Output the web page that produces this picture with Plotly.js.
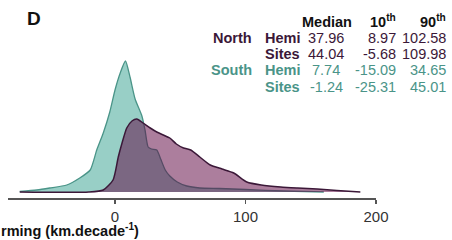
<!DOCTYPE html>
<html><head><meta charset="utf-8">
<script src="https://cdn.plot.ly/plotly-3.0.1.min.js"></script>
<style>html,body{margin:0;padding:0;background:#fff}#c{width:452px;height:240px}</style>
</head><body><div id="c"></div>
<script>
// Density estimates (arbitrary units)
const southX = [-73, -60, -50, -37, -27, -19, -14, -9, -4, 0, 4, 8, 11.5, 15.4, 20.6, 23, 25.4, 28, 32, 35, 38.5, 42, 47.7, 55, 65, 80, 100, 130, 160];
const southY = [0.5, 2, 4, 7, 14, 22, 42, 59, 80, 102, 119, 131, 115, 93, 76, 62, 45, 43, 42, 33, 22, 16, 10, 6, 4, 3.5, 2.5, 1, 0];
const northX = [-73, -20, -9, -1.5, 2.5, 5.4, 9, 13, 16.7, 21.5, 27, 32, 37, 42, 47, 52.5, 58, 65, 73, 82, 91, 101, 112, 127, 140, 155, 170, 188];
const northY = [0, 0, 2, 12, 35, 49, 64, 71, 73, 69, 64, 60, 57, 54, 48, 44, 42, 35, 27, 23, 19, 10, 7, 5, 4, 3, 1.5, 0];

const tickVals = [0, 100, 200];
const tickText = ['0', '100', '200'];

const groups = ['North', '', 'South', ''];
const kinds = ['Hemi', 'Sites', 'Hemi', 'Sites'];
const medians = ['37.96', '44.04', '7.74', '-1.24'];
const p10 = ['8.97', '-5.68', '-15.09', '-25.31'];
const p90 = ['102.58', '109.98', '34.65', '45.01'];
const headers = ['Median', '10<sup>th</sup>', '90<sup>th</sup>'];

const purple = '#3b1838', teal = '#4a9488';
const rowColors = [purple, purple, teal, teal];

// pixel helpers for annotation placement
const L = 8, W = 368, T = 40, H = 158;
const px = X => (X - L) / W;
const py = Y => (T + H - Y) / H;

const font = 'Liberation Sans, Arial, Helvetica, sans-serif';
const ann = [];
function add(text, X, Y, anchor, color, bold, size) {
  ann.push({xref: 'paper', yref: 'paper', x: px(X), y: py(Y), xanchor: anchor, yanchor: 'middle',
    text: bold ? '<b>' + text + '</b>' : text, showarrow: false,
    font: {family: font, size: size || 14.5, color: color}});
}
add('D', 25, 19, 'left', '#111', true, 19);
add(headers[0], 354, 22, 'right', '#111', true);
add(headers[1], 398, 21, 'right', '#111', true);
add(headers[2], 448, 21, 'right', '#111', true);
const rowY = [38, 54, 70, 87];
for (let i = 0; i < 4; i++) {
  if (groups[i]) add(groups[i], 254, rowY[i], 'right', rowColors[i], true);
  add(kinds[i], 302, rowY[i], 'right', rowColors[i], true);
  add(medians[i], 326, rowY[i], 'center', rowColors[i], false);
  add(p10[i], 398, rowY[i], 'right', rowColors[i], false);
  add(p90[i], 448, rowY[i], 'right', rowColors[i], false);
}
add('rming (km.decade<sup>-1</sup>)', -1, 230, 'left', '#111', true);
add('rming (km.decade<sup>-1</sup>)', -12, -10, 'left', '#111', true);

const traces = [
  {x: southX, y: southY, type: 'scatter', mode: 'lines', fill: 'tozeroy',
   line: {color: teal, width: 1.3, shape: 'spline', smoothing: 0.6}, fillcolor: 'rgb(152,207,198)', hoverinfo: 'skip'},
  {x: northX, y: northY, type: 'scatter', mode: 'lines', fill: 'tozeroy',
   line: {color: purple, width: 1.5, shape: 'spline', smoothing: 0.6}, fillcolor: 'rgba(95,8,68,0.52)', hoverinfo: 'skip'}
];

const layout = {
  width: 452, height: 240, showlegend: false,
  paper_bgcolor: '#fff', plot_bgcolor: '#fff',
  margin: {l: L, r: 452 - L - W, t: T, b: 240 - T - H, pad: 0},
  xaxis: {range: [-82, 200], tickvals: tickVals, ticktext: tickText, showgrid: false, zeroline: false,
    showline: true, linecolor: '#555', linewidth: 1.5, ticks: 'outside', ticklen: 4, tickcolor: '#555', tickwidth: 1.5,
    tickfont: {family: font, size: 15, color: '#333'}, fixedrange: true},
  yaxis: {range: [-6, 152], visible: false, fixedrange: true},
  annotations: ann
};
Plotly.newPlot('c', traces, layout, {staticPlot: true, displayModeBar: false});
</script></body></html>
